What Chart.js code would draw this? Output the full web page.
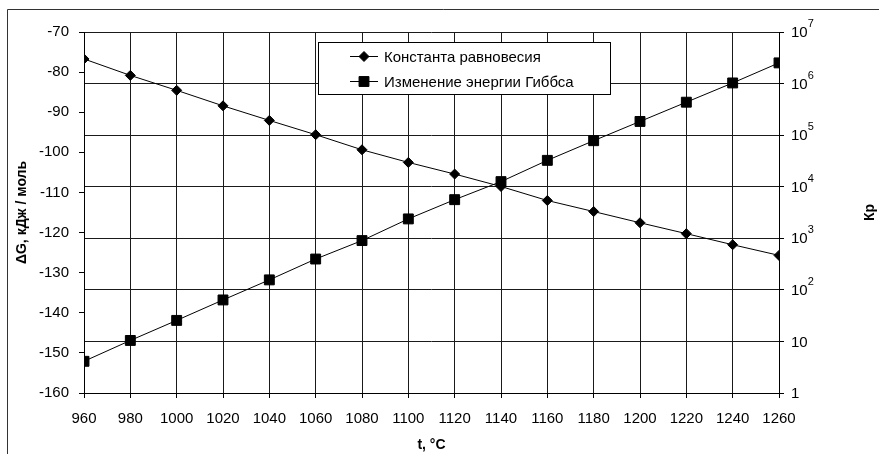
<!DOCTYPE html>
<html>
<head>
<meta charset="utf-8">
<script src="https://cdn.jsdelivr.net/npm/chart.js@4.4.1/dist/chart.umd.min.js"></script>
<style>
    html, body { margin: 0; padding: 0; background: #fff; }
    canvas { display: block; }
</style>
</head>
<body>
<canvas id="chart" width="879" height="454"></canvas>
<script>
// Data
const temperatures = [960, 980, 1000, 1020, 1040, 1060, 1080, 1100, 1120, 1140, 1160, 1180, 1200, 1220, 1240, 1260];
const equilibriumConstant = [3.0e6, 1.44e6, 7.4e5, 3.7e5, 1.93e5, 1.02e5, 5.2e4, 2.96e4, 1.76e4, 1.01e4, 5.4e3, 3.3e3, 2.0e3, 1.23e3, 750, 466];
const gibbsEnergy = [-152.1, -146.9, -141.9, -136.8, -131.8, -126.6, -122.0, -116.6, -111.8, -107.3, -102.0, -97.1, -92.3, -87.5, -82.7, -77.7];

// Axis ticks
const rightTicks = [1, 10, 100, 1e3, 1e4, 1e5, 1e6, 1e7];
const rightTickLabels = ['1', '10', '10^2', '10^3', '10^4', '10^5', '10^6', '10^7'];

const seriesLabels = ['Константа равновесия', 'Изменение энергии Гиббса'];
const FONT = "'Liberation Sans', Arial, sans-serif";

// Frame, boxed legend, right axis labels and title
const decorPlugin = {
    id: 'decor',
    beforeDraw(chart) {
        const ctx = chart.ctx;
        ctx.save();
        ctx.fillStyle = '#fff';
        ctx.fillRect(0, 0, chart.width, chart.height);
        ctx.strokeStyle = '#333';
        ctx.lineWidth = 1;
        ctx.beginPath();
        ctx.moveTo(7.5, chart.height + 2);
        ctx.lineTo(7.5, 9.5);
        ctx.lineTo(chart.width + 2, 9.5);
        ctx.stroke();
        ctx.restore();
    },
    afterDraw(chart) {
        const ctx = chart.ctx;
        const yR = chart.scales.yR;
        const area = chart.chartArea;
        ctx.save();

        // right axis labels with superscripts
        ctx.fillStyle = '#000';
        ctx.textBaseline = 'middle';
        ctx.textAlign = 'left';
        rightTicks.forEach((v, i) => {
            const y = yR.getPixelForValue(v);
            const parts = rightTickLabels[i].split('^');
            ctx.font = '15px ' + FONT;
            ctx.fillText(parts[0], area.right + 12, y + 1);
            if (parts[1]) {
                const w = ctx.measureText(parts[0]).width;
                ctx.font = '11px ' + FONT;
                ctx.fillText(parts[1], area.right + 12 + w, y - 8);
            }
        });

        // right axis title
        ctx.font = 'bold 14px ' + FONT;
        ctx.textAlign = 'center';
        ctx.translate(870, (area.top + area.bottom) / 2);
        ctx.rotate(-Math.PI / 2);
        ctx.fillText('Кр', 0, 0);
        ctx.setTransform(1, 0, 0, 1, 0, 0);

        // legend box
        const box = { left: 318.5, top: 42.5, right: 610.5, bottom: 94.5 };
        ctx.fillStyle = '#fff';
        ctx.fillRect(box.left, box.top, box.right - box.left, box.bottom - box.top);
        ctx.strokeStyle = '#000';
        ctx.lineWidth = 1;
        ctx.strokeRect(box.left, box.top, box.right - box.left, box.bottom - box.top);

        const rows = [56.5, 81.5];
        chart.data.datasets.forEach((ds, i) => {
            const y = rows[i];
            ctx.strokeStyle = '#000';
            ctx.lineWidth = 1;
            ctx.beginPath();
            ctx.moveTo(350, y);
            ctx.lineTo(378, y);
            ctx.stroke();
            ctx.fillStyle = '#000';
            Chart.helpers.drawPoint(ctx, { pointStyle: ds.pointStyle, radius: ds.pointRadius, rotation: 0, borderWidth: 1 }, 364, y);
            ctx.fillStyle = '#000';
            ctx.font = '15px ' + FONT;
            ctx.textAlign = 'left';
            ctx.textBaseline = 'middle';
            ctx.fillText(ds.label, 384, y + 1);
        });
        ctx.restore();
    }
};

const ctx = document.getElementById('chart').getContext('2d');

new Chart(ctx, {
    type: 'line',
    data: {
        datasets: [{
            label: seriesLabels[0],
            data: temperatures.map((t, i) => ({ x: t, y: equilibriumConstant[i] })),
            yAxisID: 'yR',
            borderColor: '#000',
            borderWidth: 1,
            backgroundColor: '#000',
            pointStyle: 'rectRot',
            pointRadius: 5,
            pointBorderWidth: 1,
            tension: 0
        }, {
            label: seriesLabels[1],
            data: temperatures.map((t, i) => ({ x: t, y: gibbsEnergy[i] })),
            yAxisID: 'yL',
            borderColor: '#000',
            borderWidth: 1,
            backgroundColor: '#000',
            pointStyle: 'rect',
            pointRadius: 7,
            pointBorderWidth: 1,
            tension: 0
        }]
    },
    options: {
        responsive: false,
        animation: false,
        layout: { padding: { left: 8, top: 32, right: 0, bottom: 0 } },
        plugins: {
            legend: { display: false },
            tooltip: { enabled: false }
        },
        scales: {
            x: {
                type: 'linear',
                position: 'bottom',
                min: 960,
                max: 1260,
                afterFit: (scale) => { scale.height = 61; },
                ticks: {
                    stepSize: 20,
                    padding: 12,
                    color: '#000',
                    font: { family: FONT, size: 15 },
                    callback: (v) => String(v)
                },
                grid: { color: '#1a1a1a', lineWidth: 1, tickLength: 5, tickColor: '#000' },
                border: { color: '#000', width: 1 },
                title: {
                    display: true,
                    text: 't, °C',
                    color: '#000',
                    font: { family: FONT, size: 14, weight: 'bold' },
                    padding: { top: 0, bottom: 0 }
                }
            },
            yL: {
                type: 'linear',
                position: 'left',
                min: -160,
                max: -70,
                afterFit: (scale) => { scale.width = 76; },
                ticks: {
                    stepSize: 10,
                    padding: 10,
                    color: '#000',
                    font: { family: FONT, size: 15 },
                    callback: (v) => String(v)
                },
                grid: { drawOnChartArea: false, tickLength: 5, tickColor: '#000' },
                border: { color: '#000', width: 1 },
                title: {
                    display: true,
                    text: 'ΔG, кДж / моль',
                    color: '#000',
                    font: { family: FONT, size: 14, weight: 'bold' },
                    padding: { top: 6, bottom: 0 }
                }
            },
            yR: {
                type: 'logarithmic',
                position: 'right',
                min: 1,
                max: 1e7,
                afterFit: (scale) => { scale.width = 100; },
                afterBuildTicks: (scale) => { scale.ticks = rightTicks.map(v => ({ value: v })); },
                ticks: {
                    autoSkip: false,
                    callback: () => ''
                },
                grid: { color: '#1a1a1a', lineWidth: 1, tickLength: 5, tickColor: '#000' },
                border: { color: '#000', width: 1 }
            }
        }
    },
    plugins: [decorPlugin]
});
</script>
</body>
</html>
